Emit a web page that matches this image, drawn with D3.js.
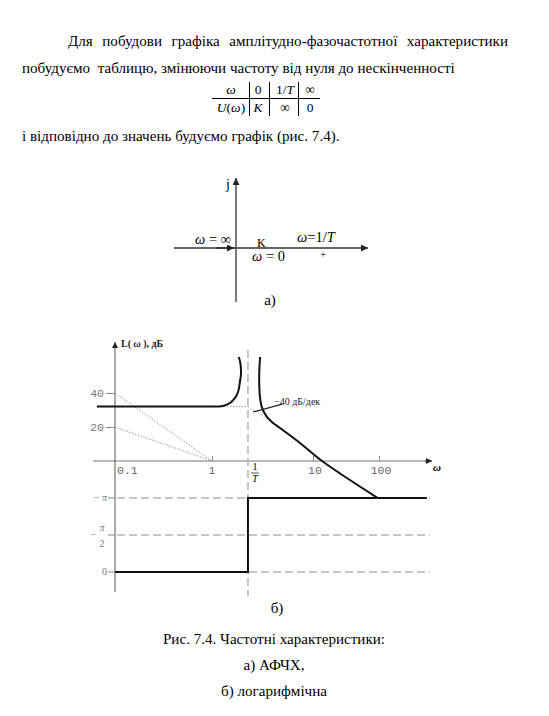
<!DOCTYPE html>
<html><head><meta charset="utf-8">
<script src="https://cdn.jsdelivr.net/npm/d3@7"></script>
<style>body{margin:0;background:#fff}svg{display:block}</style>
</head><body><svg id="c" width="549" height="716"></svg>
<script>
// ---------------- data ----------------
const paraLine1 = "Для побудови графіка амплітудно-фазочастотної характеристики";
const paraLine2 = "побудуємо  таблицю, змінюючи частоту від нуля до нескінченності";
const paraLine3 = "і відповідно до значень будуємо графік (рис. 7.4).";
const tableHeader = ["ω", "0", "1/T", "∞"];
const tableRow = ["U(ω)", "K", "∞", "0"];
const captionLines = ["Рис. 7.4. Частотні характеристики:", "а) АФЧХ,", "б) логарифмічна"];

const freqTicks = [0.1, 1, 10, 100];
const freqTickLabels = ["0.1", "1", "10", "100"];
const dbTicks = [40, 20];
const dbTickLabels = ["40", "20"];
const phaseTicks = [-Math.PI, -Math.PI / 2, 0];
const omegaT = 2.27;           // 1/T
const levelDb = 32;            // 20 lg K
const levelLine = [[0.065, 32], [1.02, 32]];
const leftBranch = [[1.02, 32], [1.285, 32.4], [1.507, 34.1], [1.69, 37.1], [1.81, 40.6], [1.89, 46.5], [1.94, 52.4], [1.9, 58.2], [1.84, 61.2]];
const rightBranch = [[2.99, 61.2], [2.93, 48.8], [2.99, 37.1], [3.13, 31.2], [3.5, 25.9], [4.02, 22.4], [4.71, 19.4], [7.43, 10.6], [13.7, 0], [96, -21.8]];
const asym40 = [[0.1, 40], [1, 0]];
const asym20 = [[0.1, 20], [1, 0]];
const asymFlat = [[1, 32], [omegaT, 32]];
const asymSlope = [[omegaT, 32], [3.75, 24.1]];
const slopePointer = [[2.55, 28.8], [4.94, 33.5]];
const slopeLabel = "−40 дБ/дек";
const phaseStep = [[0.1, 0], [omegaT, 0], [omegaT, -Math.PI], [530, -Math.PI]];

// ---------------- drawing ----------------
const SERIF = "'Liberation Serif', 'Times New Roman', Times, 'DejaVu Serif', serif";
const MONO = "'Liberation Mono', 'Courier New', 'DejaVu Sans Mono', monospace";
const svg = d3.select("#c").attr("font-family", SERIF);
svg.append("rect").attr("width", 549).attr("height", 716).attr("fill", "#fff");
const defs = svg.append("defs");
function marker(id, color, w, h) {
  defs.append("marker").attr("id", id).attr("viewBox", "0 0 10 10").attr("refX", 10).attr("refY", 5)
    .attr("markerWidth", w).attr("markerHeight", h).attr("markerUnits", "userSpaceOnUse").attr("orient", "auto")
    .append("path").attr("d", "M0,0L10,5L0,10Z").attr("fill", color);
}
marker("arrA", "#222", 12, 7);
marker("arrB", "#222", 9, 6);

// font size fitted so that line 2 spans its width in the page
const probe = svg.append("text").attr("font-size", 16).style("white-space", "pre").text(paraLine2);
const fs = 16 * 433 / probe.node().getComputedTextLength();
probe.remove();

(function justify() {
  const words = paraLine1.split(" ");
  const g = svg.append("g");
  const ts = words.map(w => g.append("text").attr("y", 46).attr("font-size", fs).attr("fill", "#000").text(w));
  const widths = ts.map(t => t.node().getComputedTextLength());
  const total = d3.sum(widths);
  const gap = (508 - 68 - total) / (words.length - 1);
  let xx = 68;
  ts.forEach((t, i) => { t.attr("x", xx); xx += widths[i] + gap; });
})();
svg.append("text").attr("x", 22).attr("y", 73).attr("font-size", fs).style("white-space", "pre").text(paraLine2);
svg.append("text").attr("x", 22).attr("y", 141).attr("font-size", fs).text(paraLine3);

// table
const colX = [231, 258, 285, 310];
const tg = svg.append("g").attr("font-size", 13.5);
tableHeader.forEach((s, i) => {
  const t = tg.append("text").attr("x", colX[i]).attr("y", 94).attr("text-anchor", "middle");
  if (s === "ω") t.attr("font-style", "italic").text(s);
  else if (s === "1/T") { t.append("tspan").text("1/"); t.append("tspan").attr("font-style", "italic").text("T"); }
  else t.text(s);
});
tableRow.forEach((s, i) => {
  const t = tg.append("text").attr("x", colX[i]).attr("y", 112).attr("text-anchor", "middle");
  if (s === "U(ω)") { t.append("tspan").attr("font-style", "italic").text("U"); t.append("tspan").text("("); t.append("tspan").attr("font-style", "italic").text("ω"); t.append("tspan").text(")"); }
  else if (s === "K") t.attr("font-style", "italic").text(s);
  else t.text(s);
});
tg.append("line").attr("x1", 212).attr("x2", 320).attr("y1", 98.5).attr("y2", 98.5).attr("stroke", "#000").attr("stroke-width", 1);
[249.5, 269.5, 298.5].forEach(xv => tg.append("line").attr("x1", xv).attr("x2", xv).attr("y1", 82).attr("y2", 116).attr("stroke", "#000").attr("stroke-width", 1));

// ---- diagram a) ----
const re = d3.scaleLinear().domain([-62, 132]).range([174, 368]);
const im = d3.scaleLinear().domain([-54, 70]).range([302, 178]);
const ga = svg.append("g");
ga.append("line").attr("x1", re(-62)).attr("x2", re(132)).attr("y1", im(0)).attr("y2", im(0)).attr("stroke", "#333").attr("stroke-width", 1.6).attr("marker-end", "url(#arrA)");
ga.append("line").attr("x1", re(0)).attr("x2", re(0)).attr("y1", im(-54)).attr("y2", im(70)).attr("stroke", "#333").attr("stroke-width", 1.3).attr("marker-end", "url(#arrA)");
ga.append("line").attr("x1", re(-20)).attr("x2", re(-2)).attr("y1", im(0)).attr("y2", im(0)).attr("stroke", "#333").attr("stroke-width", 1.6).attr("marker-end", "url(#arrA)");
ga.append("text").attr("x", 226).attr("y", 189).attr("font-size", 14).text("j");
const ta1 = ga.append("text").attr("x", 195).attr("y", 244).attr("font-size", 14.5);
ta1.append("tspan").attr("font-style", "italic").text("ω");
ta1.append("tspan").text(" = ∞");
ga.append("text").attr("x", 257).attr("y", 246.5).attr("font-size", 12).text("K");
const ta2 = ga.append("text").attr("x", 252).attr("y", 261).attr("font-size", 14.5);
ta2.append("tspan").attr("font-style", "italic").text("ω");
ta2.append("tspan").text(" = 0");
const ta3 = ga.append("text").attr("x", 297).attr("y", 242).attr("font-size", 14.5);
ta3.append("tspan").attr("font-style", "italic").text("ω");
ta3.append("tspan").text("=1/");
ta3.append("tspan").attr("font-style", "italic").text("T");
ga.append("text").attr("x", 323).attr("y", 258).attr("font-size", 11).attr("text-anchor", "middle").text("+");
ga.append("text").attr("x", 270).attr("y", 305).attr("font-size", fs).attr("text-anchor", "middle").text("а)");

// ---- diagram b) ----
const x = d3.scaleLog().domain([0.1, 1, 10, 100]).range([115, 212, 313, 379]);
const yDb = d3.scaleLinear().domain([0, 40]).range([461, 393]);
const yPh = d3.scaleLinear().domain([0, -Math.PI]).range([572, 498]);
const gb = svg.append("g");
const dash = "8,4";

// phase dashed grid
gb.selectAll(".pg").data(phaseTicks).join("line")
  .attr("x1", 117).attr("x2", 430).attr("y1", d => yPh(d)).attr("y2", d => yPh(d))
  .attr("stroke", "#b4b4b4").attr("stroke-width", 1.5).attr("stroke-dasharray", dash);
// 1/T dashed vertical
gb.append("line").attr("x1", x(omegaT)).attr("x2", x(omegaT)).attr("y1", 350).attr("y2", 596)
  .attr("stroke", "#b4b4b4").attr("stroke-width", 1.5).attr("stroke-dasharray", dash);

// frequency axis
gb.append("line").attr("x1", 93).attr("x2", 431).attr("y1", yDb(0)).attr("y2", yDb(0)).attr("stroke", "#b8b8b8").attr("stroke-width", 1.8);
gb.append("line").attr("x1", 425).attr("x2", 432).attr("y1", yDb(0)).attr("y2", yDb(0)).attr("stroke", "#222").attr("stroke-width", 1).attr("marker-end", "url(#arrB)");
gb.append("text").attr("x", 433).attr("y", 471).attr("font-size", 11).attr("font-style", "italic").attr("font-weight", "bold").text("ω");

// y axis
gb.append("line").attr("x1", 115).attr("x2", 115).attr("y1", 592).attr("y2", 342).attr("stroke", "#555").attr("stroke-width", 1).attr("marker-end", "url(#arrB)");
gb.append("text").attr("x", 121).attr("y", 347).attr("font-size", 10).attr("fill", "#222").attr("font-weight", "bold")
  .call(t => { t.append("tspan").text("L( "); t.append("tspan").attr("font-style", "italic").text("ω"); t.append("tspan").text(" ), дБ"); });

// dB ticks via axis
const axDb = d3.axisLeft(yDb).tickValues(dbTicks).tickSize(9).tickFormat((d, i) => dbTickLabels[i]);
gb.append("g").attr("transform", "translate(115,0)").call(axDb)
  .call(g => g.select(".domain").remove())
  .call(g => g.selectAll("line").attr("stroke", "#888"))
  .call(g => g.selectAll("text").attr("font-family", MONO).attr("font-size", 11.5).attr("fill", "#777").attr("dx", 1));

// freq ticks
const axF = d3.axisTop(x).tickValues(freqTicks).tickSize(5).tickFormat("");
gb.append("g").attr("transform", `translate(0,${yDb(0)})`).call(axF)
  .call(g => g.select(".domain").remove())
  .call(g => g.selectAll("line").attr("stroke", "#888"))
  .call(g => g.selectAll(".tick").filter(d => d === 0.1).remove());
gb.selectAll(".fl").data(freqTicks).join("text")
  .attr("x", (d, i) => i === 0 ? x(d) + 2 : x(d) + (i === 1 ? 0 : 2)).attr("y", 474)
  .attr("text-anchor", (d, i) => i === 0 ? "start" : "middle")
  .attr("font-family", MONO).attr("font-size", 11.5).attr("fill", "#666")
  .text((d, i) => freqTickLabels[i]);
// 1/T label
gb.append("text").attr("x", x(omegaT) + 7).attr("y", 470).attr("font-size", 10).attr("text-anchor", "middle").text("1");
gb.append("line").attr("x1", x(omegaT) + 3).attr("x2", x(omegaT) + 11).attr("y1", 473).attr("y2", 473).attr("stroke", "#333").attr("stroke-width", 0.8);
gb.append("text").attr("x", x(omegaT) + 7).attr("y", 482).attr("font-size", 10).attr("font-style", "italic").attr("text-anchor", "middle").text("T");

// phase labels
const phLab = gb.append("g").attr("fill", "#777").attr("font-size", 10);
phLab.append("text").attr("x", 107).attr("y", yPh(-Math.PI) + 3).attr("text-anchor", "end")
  .call(t => { t.append("tspan").text("− "); t.append("tspan").attr("font-style", "italic").text("π"); });
phLab.append("text").attr("x", 96).attr("y", yPh(-Math.PI / 2) + 3).attr("text-anchor", "end").text("−");
phLab.append("text").attr("x", 102).attr("y", yPh(-Math.PI / 2) - 4).attr("text-anchor", "middle").attr("font-style", "italic").text("π");
phLab.append("text").attr("x", 102).attr("y", yPh(-Math.PI / 2) + 12).attr("text-anchor", "middle").text("2");
phLab.append("text").attr("x", 107).attr("y", yPh(0) + 3).attr("text-anchor", "end").text("0");
gb.selectAll(".pt").data(phaseTicks).join("line")
  .attr("x1", 108).attr("x2", 115).attr("y1", d => yPh(d)).attr("y2", d => yPh(d)).attr("stroke", "#888").attr("stroke-width", 1);

// dotted asymptotes
const lineDb = d3.line().x(d => x(d[0])).y(d => yDb(d[1]));
[asym40, asym20, asymFlat, asymSlope].forEach(a =>
  gb.append("path").attr("d", lineDb(a)).attr("fill", "none").attr("stroke", "#999").attr("stroke-width", 1).attr("stroke-dasharray", "1.5,1.5"));

// L(ω) curves
gb.append("path").attr("d", lineDb(levelLine)).attr("fill", "none").attr("stroke", "#111").attr("stroke-width", 2);
const curveLine = d3.line().x(d => x(d[0])).y(d => yDb(d[1])).curve(d3.curveCatmullRom.alpha(0.5));
gb.append("path").attr("d", curveLine(leftBranch)).attr("fill", "none").attr("stroke", "#111").attr("stroke-width", 2);
gb.append("path").attr("d", curveLine(rightBranch)).attr("fill", "none").attr("stroke", "#111").attr("stroke-width", 2);

// slope annotation
gb.append("path").attr("d", lineDb(slopePointer)).attr("fill", "none").attr("stroke", "#222").attr("stroke-width", 1.2);
gb.append("text").attr("x", x(slopePointer[1][0]) - 8).attr("y", yDb(slopePointer[1][1]) + 1).attr("font-size", 10).attr("fill", "#222").text(slopeLabel);

// phase step
const linePh = d3.line().x(d => x(d[0])).y(d => yPh(d[1]));
gb.append("path").attr("d", linePh(phaseStep)).attr("fill", "none").attr("stroke", "#111").attr("stroke-width", 2);

gb.append("text").attr("x", 277).attr("y", 613).attr("font-size", fs).attr("text-anchor", "middle").text("б)");

// caption
captionLines.forEach((s, i) => svg.append("text").attr("x", 274).attr("y", 644 + i * 26).attr("font-size", fs).attr("text-anchor", "middle").text(s));
</script></body></html>
